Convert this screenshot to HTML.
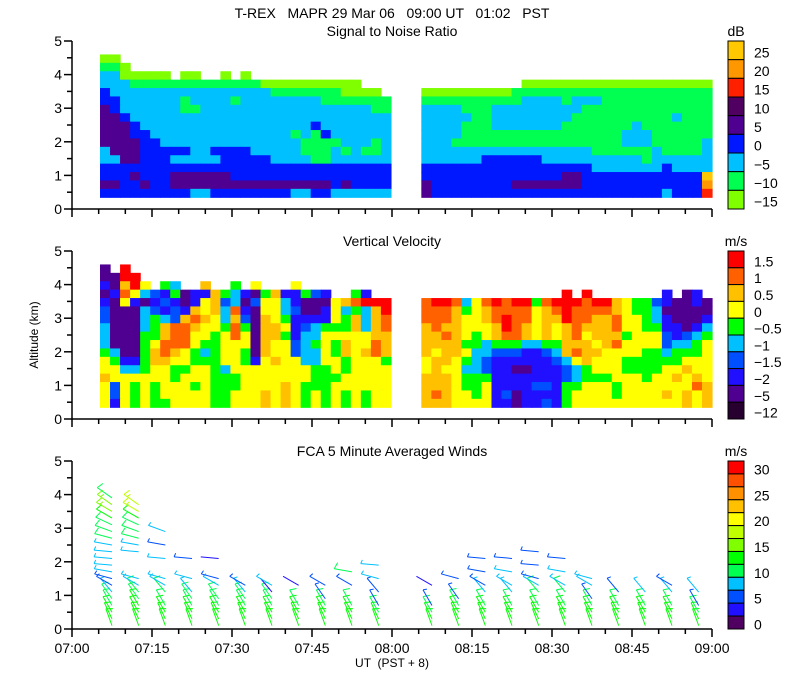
<!DOCTYPE html>
<html><head><meta charset="utf-8"><style>
body{margin:0;background:#fff}
svg{display:block;font-family:"Liberation Sans",sans-serif}
text{white-space:pre}
</style></head><body>
<svg id="c" width="800" height="700" xmlns="http://www.w3.org/2000/svg">
<text x="392" y="18" font-size="14" text-anchor="middle">T-REX   MAPR 29 Mar 06   09:00 UT   01:02   PST</text>
<text x="392" y="36" font-size="14" text-anchor="middle">Signal to Noise Ratio</text>
<text x="392" y="246" font-size="14" text-anchor="middle">Vertical Velocity</text>
<text x="392" y="456" font-size="14" text-anchor="middle">FCA 5 Minute Averaged Winds</text>
<text x="392" y="667" font-size="12" text-anchor="middle">UT  (PST + 8)</text>
<text transform="translate(38,335) rotate(-90)" font-size="12" text-anchor="middle">Altitude (km)</text>
</svg>
<script>
const NS="http://www.w3.org/2000/svg";
const svg=document.getElementById('c');
// ---- data (colour arrays ordered lowest class first) ----
const snrColors=["#80ff00","#00ff50","#00c0ff","#0018ff","#500090","#500060","#ff2000","#ff9800","#ffc800"];
const snrLabels=["25","20","15","10","5","0","\u22125","\u221210","\u221215"];
const vvColors=["#280030","#500090","#2010ff","#0050ff","#00c0ff","#00ff00","#ffff00","#ffc000","#ff6000","#ff0000"];
const vvLabels=["1.5","1","0.5","0","\u22120.5","\u22121","\u22121.5","\u22122","\u22125","\u221212"];
const windColors=["#500060","#2010ff","#0050ff","#00c0ff","#00ff50","#00ff00","#80ff00","#c0ff00","#ffff00","#ffc000","#ff9000","#ff5000","#ff0000"];
const windLabels=["30","","25","","20","","15","","10","","5","","0"];
const xTickLabels=["07:00","07:15","07:30","07:45","08:00","08:15","08:30","08:45","09:00"];
const yTickLabels=["0","1","2","3","4","5"];
const snrLeft=["00...........................","110..........................","2200000.00..0.0..............","22211111111111110000000000...","3222222222222222211111110000.","33222222122221222222221111111","43222222112222222222222222211","44322222222222222222222222222","44432222222222222222232222222","44433222222222222221213222222","44443322222222222222111122212","24443333322333322222111212112","22443332222233333222211222222","33333333333333333333333333333","33343334444443333333333333333","44334334444444444444444343333","33333333322333333332233222222"];
const snrRight=[".............................",".............................",".............................","..........0000000000000000000","00000000011111111111111111111","11111111112222122211111111111","22221112222222221111111111111","22222112222222211111111112111","22221112222222111111121111111","22221111111111111111222111111","22211111111111111111222111112","22222222222222222111111211112","22222233333322222222221222222","33333333333333333222222232222","33333333333333443333333333338","43333333344444443333333333337","43333333333333333333333323336"];
const vvLeft=["1.9..........................","1199.........................","21796.54..7..5.6...6.........","12864325122754215722532..52..","21621232126734136642111678999","31114323276748216643112645479","31114543787647317652222657478","41114578876658517762345557478","41115578866568617752446666677","41115688865566617663456576687","54115787654566517663446576787","65225776655566526766446656665","66445665566546666666655656666","76666665666555666666655566666","63656566656555666676555666666","63656566666556667676565656566","62656556666556667676565656566"];
const vvRight=[".............................",".............................",".............................","..............9.9.......2.12.","89984689899589998997655321121","88875678888678988887655411111","88876678988677988778665421112","78776667987676787778665522124","77876567887676786777566632345","77775545554455777678666634456","76776443332234787766665545556","67765432222223467666555555666","67664432211222345666555566766","77765552222222345556665667676","77765562222332556665666666687","78766562312222566665666676767","77766662212232566666666666767"];
const windTimes=[7.5,12.5,17.5,22.5,27.5,32.5,37.5,42.5,47.5,52.5,57.5,67.5,72.5,77.5,82.5,87.5,92.5,97.5,102.5,107.5,112.5,117.5];
const windLevels=[0.1,0.3,0.5,0.7,0.9,1.1,1.3,1.5,1.7,1.9,2.1,2.3,2.5,2.7,2.9,3.1,3.3,3.5,3.7,3.9];
const windDirs=[340,335,330,330,325,320,300,285,280,275,275,275,280,285,290,295,300,300,305,305];
const windSpeedCodes=["66655433444445556775","66665544...44555688.","6665.544..4.3.4.....","666554.4..3.........","66655.43..2.........","6665543.............","6665524.............","6665..2.............","66653.3.............","6665..3.5...........","6653.3.4.4..........","6653..2.............","66653..3............","6665.43.3.3.........","6665.44.4.3.........","6665.543.3.3........","6665.54.4.3.........","66653.44............","6665.3..............","6665.4..............","6665.43.............","6653.4.............."];
// ---- geometry ----
const X0=72,X1=712;
const panels=[{top:41,bot:209},{top:251,bot:419},{top:461,bot:629}];
const xs=m=>X0+(X1-X0)*m/120;
function ys(p,a){return p.bot-(p.bot-p.top)*a/5;}
function el(t,a,parent){const e=document.createElementNS(NS,t);for(const k in a)e.setAttribute(k,a[k]);(parent||svg).appendChild(e);return e;}
function heat(p,grid,colors,m0,m1,name){
  const g=el('g',{});
  
  
  const n=grid[0].length,cw=(xs(m1)-xs(m0))/n;
  grid.forEach((row,i)=>{
    const aTop=4.6-0.25*i,aBot=aTop-0.25;
    for(let j=0;j<n;j++){const c=row[j];if(!c||c==='.')continue;
      const r=el('rect',{x:(xs(m0)+j*cw).toFixed(2),y:ys(p,aTop).toFixed(2),width:(cw+0.6).toFixed(2),height:(ys(p,aBot)-ys(p,aTop)+0.6).toFixed(2),fill:colors[+c]},g);
      
      
    }});
}
heat(panels[0],snrLeft,snrColors,5.25,59.8,'snr-left-block');
heat(panels[0],snrRight,snrColors,65.5,120,'snr-right-block');
heat(panels[1],vvLeft,vvColors,5.25,59.8,'vv-left-block');
heat(panels[1],vvRight,vvColors,65.5,120,'vv-right-block');
// wind barbs
windTimes.forEach((t,ci)=>{
  const code=windSpeedCodes[ci];
  windLevels.forEach((a,li)=>{
    const ch=code[li];if(!ch||ch==='.')return;
    const sp=(+ch)*2.2;
    const d=windDirs[li]*Math.PI/180;
    const px=xs(t),py=ys(panels[2],a);
    const ux=Math.sin(d),uy=-Math.cos(d);
    const L=18,col=windColors[Math.min(12,Math.floor(sp/2.5))];
    const g=el('g',{stroke:col,'stroke-width':1,fill:'none'});
    
    
    el('line',{x1:px,y1:py,x2:px+ux*L,y2:py+uy*L},g);
    let rem=sp,pos=L;
    const fx=Math.sin(d+1.9),fy=-Math.cos(d+1.9);
    while(rem>=4.5&&pos>8){const len=rem>=9?7:4;
      const bx=px+ux*pos,by=py+uy*pos;
      el('line',{x1:bx,y1:by,x2:bx+fx*len,y2:by+fy*len},g);
      rem-=rem>=9?10:5;pos-=4;}
  });
});
// axes
panels.forEach((p,pi)=>{
  const g=el('g',{stroke:'#000','stroke-width':1.5});
  
  
  el('line',{x1:X0,y1:p.top,x2:X0,y2:p.bot+0.7},g);
  el('line',{x1:X0,y1:p.bot,x2:X1,y2:p.bot},g);
  for(let k=0;k<=10;k++){const y=ys(p,k*0.5);el('line',{x1:X0-(k%2?5:8),y1:y,x2:X0,y2:y},g);}
  for(let m=0;m<=120;m+=5){const x=xs(m);el('line',{x1:x,y1:p.bot,x2:x,y2:p.bot+(m%15?5:8)},g);}
  yTickLabels.forEach((l,k)=>{const t=el('text',{x:62,y:ys(p,k)+5,'font-size':14,'text-anchor':'end',stroke:'none'},g);t.textContent=l;
    
    });
});
xTickLabels.forEach((l,k)=>{const t=el('text',{x:xs(k*15),y:653,'font-size':14,'text-anchor':'middle'});t.textContent=l;
  
  });
// colorbars (top = highest class)
function cbar(p,colors,labels,unit,name){
  const g=el('g',{});
  
  
  const n=colors.length,h=(p.bot-p.top)/n;
  for(let i=0;i<n;i++){const r=el('rect',{x:728,y:p.top+i*h,width:16,height:h,fill:colors[n-1-i],stroke:'#000','stroke-width':1},g);
    
    }
  labels.forEach((l,i)=>{if(!l)return;const t=el('text',{x:754,y:p.top+i*h+h/2+7,'font-size':14},g);t.textContent=l;
    
    });
  const u=el('text',{x:736,y:p.top-5,'font-size':14,'text-anchor':'middle'},g);u.textContent=unit;
}
cbar(panels[0],snrColors,snrLabels,'dB','snr-colorbar');
cbar(panels[1],vvColors,vvLabels,'m/s','vv-colorbar');
cbar(panels[2],windColors,windLabels,'m/s','wind-colorbar');
</script>
</body></html>
